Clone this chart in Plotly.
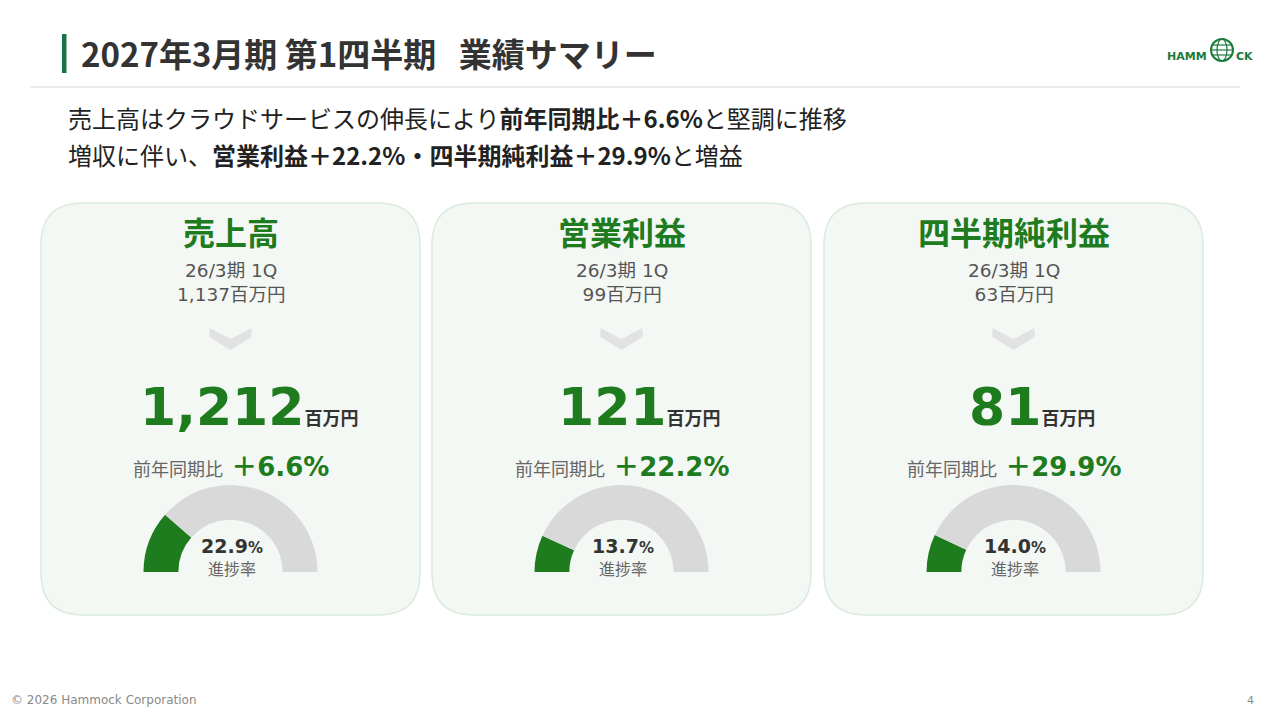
import plotly.graph_objects as go

# データ
metrics = ["売上高", "営業利益", "四半期純利益"]
prev_period = "26/3期 1Q"
prev_values = [1137, 99, 63]
current_values = [1212, 121, 81]
yoy_growth = [6.6, 22.2, 29.9]
progress_rate = [22.9, 13.7, 14.0]
unit = "百万円"

W, H = 1280, 720
OFF = 8  # ページ余白の補正
GREEN = "#1e7b1e"
GREY_TXT = "#666666"
JP = "Noto Sans CJK JP"
LAT = "DejaVu Sans, Noto Sans CJK JP"


def px(x):
    return (x - OFF) / W


def py(y):
    return 1 - (y - OFF) / H


def rounded_rect(x0, y0, x1, y1, r):
    pts = [
        f"M {px(x0 + r)},{py(y0)}",
        f"L {px(x1 - r)},{py(y0)}",
        f"Q {px(x1)},{py(y0)} {px(x1)},{py(y0 + r)}",
        f"L {px(x1)},{py(y1 - r)}",
        f"Q {px(x1)},{py(y1)} {px(x1 - r)},{py(y1)}",
        f"L {px(x0 + r)},{py(y1)}",
        f"Q {px(x0)},{py(y1)} {px(x0)},{py(y1 - r)}",
        f"L {px(x0)},{py(y0 + r)}",
        f"Q {px(x0)},{py(y0)} {px(x0 + r)},{py(y0)}",
        "Z",
    ]
    return " ".join(pts)


fig = go.Figure()
shapes = []
annotations = []

# ヘッダー
shapes.append(dict(type="rect", xref="paper", yref="paper",
                   x0=px(62), x1=px(66.5), y0=py(73), y1=py(34),
                   fillcolor="#177245", line=dict(width=0)))
shapes.append(dict(type="line", xref="paper", yref="paper",
                   x0=px(30), x1=px(1240), y0=py(87), y1=py(87),
                   line=dict(color="#e4e4e4", width=1.5)))
annotations.append(dict(
    text="<b>2027年3月期 第1四半期\u00a0\u00a0\u00a0業績サマリー</b>",
    x=px(79), y=py(53), xanchor="left", yanchor="middle",
    font=dict(family=JP, size=33, color="#333333")))

# ロゴ
annotations.append(dict(text="<b>HAMM</b>", x=px(1209), y=py(57), xanchor="right", yanchor="middle",
                        font=dict(family="DejaVu Sans", size=11, color="#1a7a3a")))
annotations.append(dict(text="<b>CK</b>", x=px(1234), y=py(57), xanchor="left", yanchor="middle",
                        font=dict(family="DejaVu Sans", size=11, color="#1a7a3a")))
shapes.append(dict(type="circle", xref="paper", yref="paper",
                   x0=px(1211), x1=px(1233), y0=py(61), y1=py(39),
                   line=dict(color="#1a7a3a", width=2)))
shapes.append(dict(type="circle", xref="paper", yref="paper",
                   x0=px(1217), x1=px(1227), y0=py(61), y1=py(39),
                   line=dict(color="#1a7a3a", width=1.2)))
for yy in (45, 50, 55):
    shapes.append(dict(type="line", xref="paper", yref="paper",
                       x0=px(1212), x1=px(1232), y0=py(yy), y1=py(yy),
                       line=dict(color="#1a7a3a", width=1.2)))

# サブタイトル
line1 = f"売上高はクラウドサービスの伸長により<b>前年同期比＋{yoy_growth[0]}%</b>と堅調に推移"
line2 = (f"増収に伴い、<b>{metrics[1]}＋{yoy_growth[1]}%・{metrics[2]}＋{yoy_growth[2]}%</b>と増益")
annotations.append(dict(text=line1, x=px(66), y=py(117), xanchor="left", yanchor="middle",
                        font=dict(family=JP, size=24, color="#222222")))
annotations.append(dict(text=line2, x=px(66), y=py(155), xanchor="left", yanchor="middle",
                        font=dict(family=JP, size=24, color="#222222")))

# カード
card_left = [41, 432, 824]
card_w = 379
R_OUT = 87
for i, name in enumerate(metrics):
    x0 = card_left[i]
    cx = x0 + card_w / 2
    shapes.append(dict(type="path", xref="paper", yref="paper", layer="below",
                       path=rounded_rect(x0, 203, x0 + card_w, 615, 42),
                       fillcolor="#f3f8f4", line=dict(color="#dcebdf", width=1.5)))

    annotations.append(dict(text=f"<b>{name}</b>", x=px(cx), y=py(231), xanchor="center", yanchor="middle",
                            font=dict(family=JP, size=32, color=GREEN)))
    annotations.append(dict(text=f"{prev_period}<br>{prev_values[i]:,}{unit}",
                            x=px(cx), y=py(282), xanchor="center", yanchor="middle",
                            font=dict(family=LAT, size=18.5, color="#555555")))

    # 矢印
    chevron = (f"M {px(cx - 21)},{py(328)} L {px(cx)},{py(339)} L {px(cx + 21)},{py(328)} "
               f"L {px(cx + 21)},{py(337)} L {px(cx)},{py(350)} L {px(cx - 21)},{py(337)} Z")
    shapes.append(dict(type="path", xref="paper", yref="paper", path=chevron,
                       fillcolor="#e2e2e2", line=dict(width=0)))

    annotations.append(dict(
        text=(f"<b>{current_values[i]:,}</b>"
              f"<span style='font-size:18px;color:#333333'><b>{unit}</b></span>"),
        x=px(cx + 18), y=py(407), xanchor="center", yanchor="middle",
        font=dict(family=LAT, size=52, color=GREEN)))

    annotations.append(dict(
        text=(f"<span style='font-size:18px;color:{GREY_TXT}'>前年同期比</span>\u00a0"
              f"<b>＋{yoy_growth[i]}%</b>"),
        x=px(cx), y=py(467), xanchor="center", yanchor="middle",
        font=dict(family=LAT, size=26, color=GREEN)))

    # 進捗率ゲージ
    gy = 572
    fig.add_trace(go.Pie(
        values=[progress_rate[i], 100 - progress_rate[i], 100],
        domain=dict(x=[px(cx - R_OUT), px(cx + R_OUT)], y=[py(gy + R_OUT), py(gy - R_OUT)]),
        hole=0.6, rotation=270, direction="clockwise", sort=False,
        marker=dict(colors=[GREEN, "#d9d9d9", "rgba(0,0,0,0)"], line=dict(width=0)),
        textinfo="none", hoverinfo="skip", showlegend=False))

    annotations.append(dict(
        text=f"<b>{progress_rate[i]:.1f}<span style='font-size:15px'>%</span></b>",
        x=px(cx + 1), y=py(546), xanchor="center", yanchor="middle",
        font=dict(family=LAT, size=19, color="#333333")))
    annotations.append(dict(text="進捗率", x=px(cx + 1), y=py(568), xanchor="center", yanchor="middle",
                            font=dict(family=JP, size=16, color=GREY_TXT)))

# フッター
annotations.append(dict(text="© 2026 Hammock Corporation", x=px(9), y=py(700), xanchor="left",
                        yanchor="middle", font=dict(family="DejaVu Sans", size=12, color="#8a8a8a")))
annotations.append(dict(text="4", x=px(1256), y=py(700), xanchor="right",
                        yanchor="middle", font=dict(family="DejaVu Sans", size=11, color="#8a8a8a")))

for a in annotations:
    a.update(xref="paper", yref="paper", showarrow=False)

fig.update_layout(
    width=W, height=H,
    margin=dict(l=0, r=0, t=0, b=0),
    paper_bgcolor="white", plot_bgcolor="white",
    xaxis=dict(visible=False), yaxis=dict(visible=False),
    shapes=shapes, annotations=annotations,
)

fig.write_html("out.html")
